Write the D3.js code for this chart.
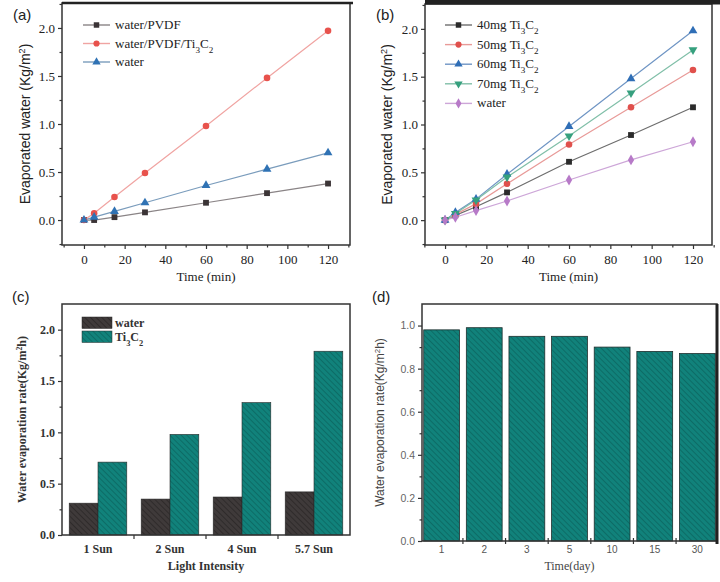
<!DOCTYPE html>
<html>
<head>
<meta charset="utf-8">
<script src="https://cdn.jsdelivr.net/npm/d3@7"></script>
<style>
  body { margin: 0; background: #fff; }
  svg { display: block; }
</style>
</head>
<body>
<div id="chart"></div>
<script>
// Panel (a): evaporated water over time
const timeMin = [0, 5, 15, 30, 60, 90, 120];
const aNames = ["water/PVDF", "water/PVDF/Ti3C2", "water"];
const aPVDF = [0, 0, 0.03, 0.08, 0.18, 0.28, 0.38];
const aPVDFTi = [0, 0.07, 0.24, 0.49, 0.98, 1.48, 1.97];
const aWater = [0, 0.03, 0.09, 0.18, 0.36, 0.53, 0.70];

// Panel (b): different Ti3C2 loadings
const bNames = ["40mg Ti3C2", "50mg Ti3C2", "60mg Ti3C2", "70mg Ti3C2", "water"];
const b40 = [0, 0.05, 0.14, 0.29, 0.61, 0.89, 1.18];
const b50 = [0, 0.06, 0.17, 0.38, 0.79, 1.18, 1.57];
const b60 = [0, 0.08, 0.22, 0.48, 0.98, 1.48, 1.98];
const b70 = [0, 0.07, 0.21, 0.45, 0.88, 1.33, 1.78];
const bWater = [0, 0.03, 0.10, 0.20, 0.42, 0.63, 0.82];

// Panel (c): rate vs light intensity
const lightLabels = ["1 Sun", "2 Sun", "4 Sun", "5.7 Sun"];
const cNames = ["water", "Ti3C2"];
const cWater = [0.31, 0.35, 0.37, 0.42];
const cTi = [0.71, 0.98, 1.29, 1.79];

// Panel (d): cycling stability
const dayLabels = ["1", "2", "3", "5", "10", "15", "30"];
const dRate = [0.98, 0.99, 0.95, 0.95, 0.90, 0.88, 0.87];

const serif = "'Liberation Serif', 'Times New Roman', serif";
const sans = "'Liberation Sans', Arial, sans-serif";

const svg = d3.select("#chart").append("svg")
  .attr("width", 720)
  .attr("height", 582);

// hatch patterns for bars
const defs = svg.append("defs");
function hatch(id, fill, line) {
  const p = defs.append("pattern")
    .attr("id", id)
    .attr("patternUnits", "userSpaceOnUse")
    .attr("width", 4).attr("height", 4)
    .attr("patternTransform", "rotate(45)");
  p.append("rect").attr("width", 4).attr("height", 4).attr("fill", fill);
  p.append("line").attr("x1", 0).attr("y1", 0).attr("x2", 4).attr("y2", 0)
    .attr("stroke", line).attr("stroke-width", 1.4);
}
hatch("hTeal", "#11827b", "#0b625d");
hatch("hDark", "#3f3a3a", "#282424");

// writes "Ti3C2" style names: digits right after a letter go subscript
function chemText(sel, str) {
  const parts = str.match(/[0-9]+|[^0-9]+/g);
  parts.forEach((p, i) => {
    const isSub = /^[0-9]+$/.test(p) && i > 0 && /[A-Za-z]$/.test(parts[i - 1]);
    sel.append("tspan")
      .attr("baseline-shift", isSub ? "sub" : null)
      .attr("font-size", isSub ? "0.7em" : null)
      .text(p);
  });
}

function panelLabel(txt, x, y) {
  svg.append("text").attr("x", x).attr("y", y)
    .attr("font-family", sans).attr("font-size", 15).attr("fill", "#222")
    .text(txt);
}

function lineStyleAxes(g, x, y, w, h, yTicks, yMinor, xTicks, xMinor) {
  // minor ticks
  g.append("g").attr("transform", `translate(0,${h})`)
    .call(d3.axisBottom(x).tickValues(xMinor).tickSize(2.5).tickFormat(""))
    .call(a => a.select(".domain").remove());
  g.append("g")
    .call(d3.axisLeft(y).tickValues(yMinor).tickSize(2.5).tickFormat(""))
    .call(a => a.select(".domain").remove());
  const xa = g.append("g").attr("transform", `translate(0,${h})`)
    .call(d3.axisBottom(x).tickValues(xTicks).tickSize(4).tickPadding(6));
  const ya = g.append("g")
    .call(d3.axisLeft(y).tickValues(yTicks).tickSize(4).tickPadding(3).tickFormat(d3.format(".1f")));
  [xa, ya].forEach(a => {
    a.select(".domain").remove();
    a.attr("font-family", serif).attr("font-size", 13);
    a.selectAll("text").attr("fill", "#222");
  });
  g.selectAll("line").attr("stroke", "#333").attr("stroke-width", 1.2);
  g.append("rect").attr("width", w).attr("height", h)
    .attr("fill", "none").attr("stroke", "#333").attr("stroke-width", 1.5);
}

function linePanel(o) {
  const w = o.x1 - o.x0, h = o.y1 - o.y0;
  const g = svg.append("g").attr("transform", `translate(${o.x0},${o.y0})`);
  const x = d3.scaleLinear().domain(o.xDomain).range([0, w]);
  const y = d3.scaleLinear().domain(o.yDomain).range([h, 0]);

  lineStyleAxes(g, x, y, w, h,
    [0, 0.5, 1.0, 1.5, 2.0], [-0.25, 0.25, 0.75, 1.25, 1.75, 2.25],
    [0, 20, 40, 60, 80, 100, 120], [-10, 10, 30, 50, 70, 90, 110, 130]);

  const line = d3.line().x((d, i) => x(timeMin[i])).y(d => y(d));
  o.series.forEach(s => {
    g.append("path").datum(s.values)
      .attr("fill", "none").attr("stroke", s.line).attr("stroke-width", 1.2)
      .attr("d", line);
  });
  o.series.forEach(s => {
    const sym = d3.symbol().type(s.shape).size(34);
    g.selectAll(null).data(s.values).enter().append("path")
      .attr("d", sym)
      .attr("transform", (d, i) => `translate(${x(timeMin[i])},${y(d)}) rotate(${s.rot || 0})`)
      .attr("fill", s.color);
  });

  // legend
  const lg = svg.append("g").attr("transform", `translate(${o.legX},${o.legY})`);
  o.series.forEach((s, i) => {
    const r = lg.append("g").attr("transform", `translate(0,${i * o.legStep})`);
    r.append("line").attr("x1", 0).attr("x2", 27).attr("stroke", s.line).attr("stroke-width", 1.4);
    r.append("path").attr("d", d3.symbol().type(s.shape).size(30)())
      .attr("transform", `translate(13.5,0) rotate(${s.rot || 0})`).attr("fill", s.color);
    const t = r.append("text").attr("x", 32).attr("y", 4)
      .attr("font-family", serif).attr("font-size", 13).attr("fill", "#222");
    chemText(t, s.name);
  });

  // axis titles
  svg.append("text").attr("x", o.x0 + w / 2).attr("y", o.y1 + 36)
    .attr("text-anchor", "middle").attr("font-family", serif).attr("font-size", 13)
    .attr("fill", "#222").text("Time (min)");
  const yt = svg.append("text")
    .attr("transform", `translate(${o.yTitleX},${o.y0 + h / 2}) rotate(-90)`)
    .attr("text-anchor", "middle").attr("font-family", sans).attr("font-size", 14)
    .attr("fill", "#222");
  yt.append("tspan").text("Evaporated water (Kg/m");
  yt.append("tspan").attr("baseline-shift", "super").attr("font-size", "0.65em").text("2");
  yt.append("tspan").text(")");

  // heavy top edge
  svg.append("line").attr("x1", o.x0).attr("x2", o.topRight).attr("y1", o.topY).attr("y2", o.topY)
    .attr("stroke", "#222").attr("stroke-width", o.topW);
}

// (a)
linePanel({
  x0: 62, x1: 350, y0: 3, y1: 245,
  xDomain: [-10.8, 130.8], yDomain: [-0.26, 2.26],
  legX: 83, legY: 25, legStep: 18.5, yTitleX: 30,
  topRight: 353, topY: 3, topW: 2.5,
  series: [
    { name: aNames[0], values: aPVDF, color: "#3b3436", line: "#8a8486", shape: d3.symbolSquare },
    { name: aNames[1], values: aPVDFTi, color: "#e8524c", line: "#f0a4a2", shape: d3.symbolCircle },
    { name: aNames[2], values: aWater, color: "#2f72b4", line: "#7a9cbc", shape: d3.symbolTriangle }
  ]
});

// (b)
linePanel({
  x0: 425, x1: 712, y0: 4, y1: 245,
  xDomain: [-9.7, 129.2], yDomain: [-0.26, 2.26],
  legX: 445, legY: 25, legStep: 19.6, yTitleX: 392,
  topRight: 720, topY: 2, topW: 5,
  series: [
    { name: bNames[0], values: b40, color: "#2b2b2b", line: "#6d6d6d", shape: d3.symbolSquare },
    { name: bNames[1], values: b50, color: "#e0504c", line: "#e89a98", shape: d3.symbolCircle },
    { name: bNames[2], values: b60, color: "#2f6eb6", line: "#6f95c4", shape: d3.symbolTriangle },
    { name: bNames[3], values: b70, color: "#36a07e", line: "#80bfa8", shape: d3.symbolTriangle, rot: 180 },
    { name: bNames[4], values: bWater, color: "#b77ac8", line: "#cda6d8", shape: d3.symbolDiamond }
  ]
});

panelLabel("(a)", 13, 20);
panelLabel("(b)", 376, 20);
panelLabel("(c)", 12, 302);
panelLabel("(d)", 372, 302);

// (c) grouped bars
(function () {
  const x0 = 62, x1 = 350, y0 = 304, y1 = 535;
  const w = x1 - x0, h = y1 - y0;
  const g = svg.append("g").attr("transform", `translate(${x0},${y0})`);
  const x = d3.scaleBand().domain(lightLabels).range([0, w]).paddingInner(0.2).paddingOuter(0.1);
  const xs = d3.scaleBand().domain(cNames).range([0, x.bandwidth()]);
  const y = d3.scaleLinear().domain([0, 2.25]).range([h, 0]);
  const fills = ["url(#hDark)", "url(#hTeal)"];
  const vals = [cWater, cTi];

  cNames.forEach((n, k) => {
    g.selectAll(null).data(vals[k]).enter().append("rect")
      .attr("x", (d, i) => x(lightLabels[i]) + xs(n))
      .attr("y", d => y(d))
      .attr("width", xs.bandwidth())
      .attr("height", d => h - y(d))
      .attr("fill", fills[k]).attr("stroke", "#2a2a2a").attr("stroke-width", 0.6);
  });

  // y axis
  g.append("g").call(d3.axisLeft(y).tickValues([0.25, 0.75, 1.25, 1.75]).tickSize(2.5).tickFormat(""))
    .call(a => a.select(".domain").remove());
  const ya = g.append("g").call(d3.axisLeft(y).tickValues([0, 0.5, 1.0, 1.5, 2.0])
    .tickSize(4).tickPadding(3).tickFormat(d3.format(".1f")));
  ya.select(".domain").remove();
  ya.attr("font-family", serif).attr("font-size", 12).attr("font-weight", "bold");
  ya.selectAll("text").attr("fill", "#333");
  // x ticks at group boundaries
  const bounds = lightLabels.slice(1).map(c => x(c) - x.step() * x.paddingInner() / 2);
  g.selectAll(null).data(bounds).enter().append("line")
    .attr("x1", d => d).attr("x2", d => d).attr("y1", h).attr("y2", h + 4);
  g.selectAll(null).data(lightLabels).enter().append("text")
    .attr("x", d => x(d) + x.bandwidth() / 2).attr("y", h + 18)
    .attr("text-anchor", "middle").attr("font-family", serif).attr("font-size", 12)
    .attr("font-weight", "bold").attr("fill", "#333").text(d => d);
  g.selectAll("line").attr("stroke", "#333").attr("stroke-width", 1.2);
  g.append("rect").attr("width", w).attr("height", h)
    .attr("fill", "none").attr("stroke", "#333").attr("stroke-width", 1.5);

  // legend
  cNames.forEach((n, k) => {
    svg.append("rect").attr("x", 82).attr("y", 317 + k * 14).attr("width", 30).attr("height", 11.5)
      .attr("fill", fills[k]).attr("stroke", "#2a2a2a").attr("stroke-width", 0.5);
    const t = svg.append("text").attr("x", 115).attr("y", 327 + k * 14)
      .attr("font-family", serif).attr("font-size", 12).attr("font-weight", "bold").attr("fill", "#333");
    chemText(t, n);
  });

  svg.append("text").attr("x", x0 + w / 2).attr("y", 570)
    .attr("text-anchor", "middle").attr("font-family", serif).attr("font-size", 12)
    .attr("font-weight", "bold").attr("fill", "#333").text("Light Intensity");
  const yt = svg.append("text")
    .attr("transform", `translate(26,${y0 + h / 2}) rotate(-90)`)
    .attr("text-anchor", "middle").attr("font-family", serif).attr("font-size", 12)
    .attr("font-weight", "bold").attr("fill", "#333");
  yt.append("tspan").text("Water evaporation rate(Kg/m");
  yt.append("tspan").attr("baseline-shift", "super").attr("font-size", "0.65em").text("2");
  yt.append("tspan").text("h)");
})();

// (d) stability bars
(function () {
  const x0 = 422, x1 = 717, y0 = 304, y1 = 541;
  const w = x1 - x0, h = y1 - y0;
  const g = svg.append("g").attr("transform", `translate(${x0},${y0})`);
  const x = d3.scaleBand().domain(dayLabels).range([0, w]).paddingInner(0.16).paddingOuter(0.04);
  const y = d3.scaleLinear().domain([0, 1.1]).range([h, 0]);

  g.selectAll(null).data(dRate).enter().append("rect")
    .attr("x", (d, i) => x(dayLabels[i]))
    .attr("y", d => y(d))
    .attr("width", x.bandwidth())
    .attr("height", d => h - y(d))
    .attr("fill", "url(#hTeal)").attr("stroke", "#1f2f2e").attr("stroke-width", 0.8);

  g.append("g").call(d3.axisLeft(y).tickValues([0.1, 0.3, 0.5, 0.7, 0.9]).tickSize(2.5).tickFormat(""))
    .call(a => a.select(".domain").remove());
  const ya = g.append("g").call(d3.axisLeft(y).tickValues([0, 0.2, 0.4, 0.6, 0.8, 1.0])
    .tickSize(4).tickPadding(3).tickFormat(d3.format(".1f")));
  ya.select(".domain").remove();
  ya.attr("font-family", sans).attr("font-size", 10.5);
  ya.selectAll("text").attr("fill", "#666");
  const bounds = dayLabels.slice(1).map(c => x(c) - x.step() * x.paddingInner() / 2);
  g.selectAll(null).data(bounds).enter().append("line")
    .attr("x1", d => d).attr("x2", d => d).attr("y1", h - 3).attr("y2", h + 3);
  g.selectAll(null).data(dayLabels).enter().append("text")
    .attr("x", d => x(d) + x.bandwidth() / 2).attr("y", h + 12)
    .attr("text-anchor", "middle").attr("font-family", sans).attr("font-size", 10)
    .attr("fill", "#555").text(d => d);
  g.selectAll("line").attr("stroke", "#333").attr("stroke-width", 1.2);
  g.append("rect").attr("width", w).attr("height", h)
    .attr("fill", "none").attr("stroke", "#333").attr("stroke-width", 1.5);
  g.append("line").attr("x1", w).attr("x2", w).attr("y1", 0).attr("y2", h + 3)
    .attr("stroke", "#222").attr("stroke-width", 3);

  svg.append("text").attr("x", x0 + w / 2).attr("y", 570)
    .attr("text-anchor", "middle").attr("font-family", serif).attr("font-size", 12)
    .attr("fill", "#444").text("Time(day)");
  const yt = svg.append("text")
    .attr("transform", `translate(384,${y0 + h / 2}) rotate(-90)`)
    .attr("text-anchor", "middle").attr("font-family", sans).attr("font-size", 12)
    .attr("fill", "#444");
  yt.append("tspan").text("Water evaporation rate(Kg/m");
  yt.append("tspan").attr("baseline-shift", "super").attr("font-size", "0.65em").text("2");
  yt.append("tspan").text("h)");
})();
</script>
</body>
</html>
